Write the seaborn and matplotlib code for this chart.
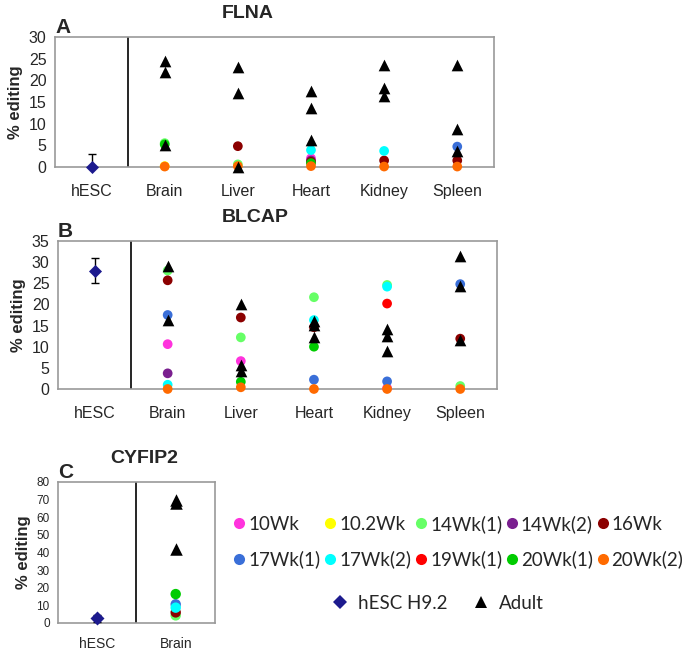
import numpy as np
import pandas as pd
import matplotlib
matplotlib.use("Agg")
import matplotlib.pyplot as plt
from matplotlib.lines import Line2D
import seaborn as sns

# categories
tissues = ["hESC", "Brain", "Liver", "Heart", "Kidney", "Spleen"]
organs = tissues[1:]
series = ["10Wk", "10.2Wk", "14Wk(1)", "14Wk(2)", "16Wk",
          "17Wk(1)", "17Wk(2)", "19Wk(1)", "20Wk(1)", "20Wk(2)"]
colors = ["#ff33dd", "#ffff00", "#66ff66", "#7a1f8f", "#8b0000",
          "#3a6fd8", "#00ffff", "#ff0000", "#00cc00", "#ff6a00"]
nan = np.nan

# fetal values per series, order: Brain, Liver, Heart, Kidney, Spleen
flna_fetal = {
    "10Wk":    [nan, nan, 2.0, nan, nan],
    "10.2Wk":  [0.2, nan, nan, nan, nan],
    "14Wk(1)": [5.5, 0.6, nan, nan, nan],
    "14Wk(2)": [nan, nan, 1.5, nan, nan],
    "16Wk":    [nan, 4.8, 1.2, 1.5, 1.5],
    "17Wk(1)": [nan, nan, nan, nan, 4.7],
    "17Wk(2)": [nan, nan, 3.9, 3.7, nan],
    "19Wk(1)": [nan, nan, nan, nan, nan],
    "20Wk(1)": [5.2, nan, 0.9, nan, nan],
    "20Wk(2)": [0.1, 0.2, 0.2, 0.1, 0.1],
}
flna_adult = {"Brain": [24.5, 22.0, 5.0], "Liver": [23.0, 17.0, 0.0],
              "Heart": [17.5, 13.5, 6.2], "Kidney": [23.5, 18.3, 16.3],
              "Spleen": [23.5, 8.7, 3.7]}
flna_hesc = (0.0, 3.0)

blcap_fetal = {
    "10Wk":    [10.6, 6.6, nan, 0.2, nan],
    "10.2Wk":  [nan, nan, nan, nan, nan],
    "14Wk(1)": [28.0, 12.2, 21.7, 24.6, 0.7],
    "14Wk(2)": [3.7, nan, nan, nan, nan],
    "16Wk":    [25.7, 16.9, 14.6, nan, 11.9],
    "17Wk(1)": [17.5, nan, 2.2, 1.8, 24.8],
    "17Wk(2)": [1.0, nan, 16.3, 24.2, nan],
    "19Wk(1)": [nan, nan, nan, 20.2, nan],
    "20Wk(1)": [nan, 1.7, 10.0, nan, nan],
    "20Wk(2)": [0.0, 0.4, 0.0, 0.0, 0.0],
}
blcap_adult = {"Brain": [29.1, 16.4], "Liver": [20.1, 5.6, 4.3],
               "Heart": [16.0, 15.2, 12.4], "Kidney": [14.2, 12.6, 9.0],
               "Spleen": [31.5, 24.3, 11.7]}
blcap_hesc = (28.0, 2.9)

cyfip_fetal = {"14Wk(1)": 4.3, "16Wk": 6.0, "17Wk(1)": 10.6,
               "17Wk(2)": 8.7, "20Wk(1)": 16.4}
cyfip_adult = [69.5, 68.0, 42.0]
cyfip_hesc = (2.6, 1.8)

palette = dict(zip(series, colors))
hesc_color = "#1c1a8e"
font = "Liberation Sans"
legend_font = "Lato"


def fetal_frame(fetal, cats):
    rows = []
    for s in series:
        vals = fetal.get(s, [nan] * len(cats))
        for t, v in zip(cats, vals):
            if not np.isnan(v):
                rows.append((t, s, v))
    return pd.DataFrame(rows, columns=["tissue", "series", "value"])


def adult_frame(adult):
    rows = [(t, v) for t, vals in adult.items() for v in vals]
    return pd.DataFrame(rows, columns=["tissue", "value"])


def draw_panel(ax, cats, fetal_df, adult_df, hesc, ylim, yticks, title, letter,
               tick_fs, cat_fs, msize):
    sns.stripplot(data=fetal_df, x="tissue", y="value", hue="series",
                  hue_order=series, palette=palette, order=cats, jitter=False,
                  size=msize, linewidth=0, legend=False, ax=ax, zorder=3)
    sns.stripplot(data=adult_df, x="tissue", y="value", order=cats,
                  jitter=False, color="black", marker="^", size=msize * 1.2,
                  linewidth=0, ax=ax, zorder=4)
    hdf = pd.DataFrame({"tissue": ["hESC"], "value": [hesc[0]]})
    sns.stripplot(data=hdf, x="tissue", y="value", order=cats, jitter=False,
                  color=hesc_color, marker="D", size=msize * 0.95, linewidth=0,
                  ax=ax, zorder=5)
    for coll in ax.collections:
        coll.set_clip_on(False)
    xi = cats.index("hESC")
    ax.errorbar([xi], [hesc[0]], yerr=[hesc[1]], fmt="none", ecolor="black",
                elinewidth=1.0, capsize=3, capthick=1.0, zorder=4)
    ax.set_xlim(-0.5, len(cats) - 0.5)
    ax.set_ylim(*ylim)
    ax.set_yticks(yticks)
    ax.axvline(xi + 0.5, color="black", lw=1.2, zorder=2)
    ax.set_xticks(np.arange(len(cats) + 1) - 0.5, minor=True)
    ax.tick_params(axis="x", which="major", length=0, pad=12,
                   labelsize=cat_fs)
    ax.tick_params(axis="x", which="minor", length=4, color="#888888")
    ax.tick_params(axis="y", length=4, color="#888888", labelsize=tick_fs,
                   pad=2)
    for lab in ax.get_xticklabels() + ax.get_yticklabels():
        lab.set_fontfamily(font)
    for sp in ax.spines.values():
        sp.set_visible(True)
        sp.set_color("#999999")
        sp.set_linewidth(1.2)
    ax.set_xlabel("")
    ax.set_ylabel("% editing", fontfamily=font, fontweight="bold",
                  fontsize=12, labelpad=4)
    ax.set_title(title, fontfamily=font, fontweight="bold", fontsize=14,
                 pad=14)
    ax.text(0.0, 1.0, letter, transform=ax.transAxes, fontfamily=font,
            fontweight="bold", fontsize=15, ha="left", va="bottom")


sns.set_theme(style="white")
fig = plt.figure(figsize=(6.9, 6.52), dpi=100)
ax_a = fig.add_axes([0.0797, 0.7439, 0.636, 0.1994])
ax_b = fig.add_axes([0.084, 0.4034, 0.636, 0.227])
ax_c = fig.add_axes([0.084, 0.0445, 0.2275, 0.2163])

draw_panel(ax_a, tissues, fetal_frame(flna_fetal, organs), adult_frame(flna_adult),
           flna_hesc, (0, 30), range(0, 31, 5), "FLNA", "A", 11.5, 11.5, 7)
draw_panel(ax_b, tissues, fetal_frame(blcap_fetal, organs), adult_frame(blcap_adult),
           blcap_hesc, (0, 35), range(0, 36, 5), "BLCAP", "B", 11.5, 11.5, 7)
cy_fetal = {k: [v] for k, v in cyfip_fetal.items()}
draw_panel(ax_c, ["hESC", "Brain"], fetal_frame(cy_fetal, ["Brain"]),
           adult_frame({"Brain": cyfip_adult}), cyfip_hesc, (0, 80),
           range(0, 81, 10), "CYFIP2", "C", 8.5, 10, 7.5)
ax_c.tick_params(axis="x", which="major", pad=10)
ax_a.title.set_position((0.44, 1.0))
ax_b.title.set_position((0.45, 1.0))
ax_c.title.set_position((0.55, 1.0))

# legend rows (column-major order so rows read like the reference)
handles = [Line2D([], [], ls="none", marker="o", ms=8, mew=0, color=c)
           for c in colors]
order = [0, 5, 1, 6, 2, 7, 3, 8, 4, 9]
fig.legend([handles[i] for i in order], [series[i] for i in order],
           ncol=5, loc="center", bbox_to_anchor=(0.665, 0.169),
           frameon=False, handlelength=0.55, handletextpad=0.2,
           columnspacing=0.25, labelspacing=0.95, borderpad=0.1,
           prop={"family": legend_font, "size": 13.5})
h2 = [Line2D([], [], ls="none", marker="D", ms=7, mew=0, color=hesc_color),
      Line2D([], [], ls="none", marker="^", ms=9, mew=0, color="black")]
fig.legend(h2, ["hESC H9.2", "Adult"], ncol=2, loc="center",
           bbox_to_anchor=(0.634, 0.075), frameon=False, handlelength=1.0,
           handletextpad=0.45, columnspacing=1.3,
           prop={"family": legend_font, "size": 13.5})

fig.savefig("out.png", dpi=100)
